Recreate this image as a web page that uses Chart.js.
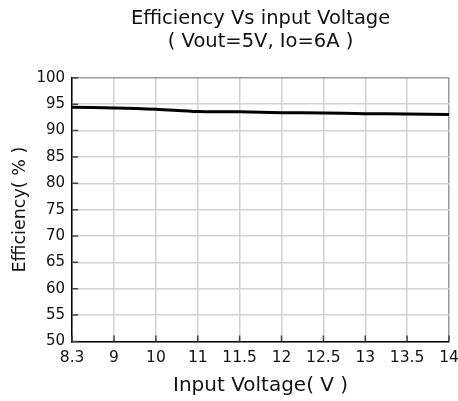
<!DOCTYPE html>
<html>
<head>
<meta charset="utf-8">
<script src="https://cdn.jsdelivr.net/npm/chart.js@4"></script>
<style>
  html, body { margin: 0; padding: 0; background: #fff; }
  #wrap { width: 458px; height: 401px; }
</style>
</head>
<body>
<div id="wrap"><canvas id="effChart" width="458" height="401"></canvas></div>
<script>
const voltages = ['8.3', '9', '10', '11', '11.5', '12', '12.5', '13', '13.5', '14'];
const efficiency = [94.4, 94.3, 94.05, 93.6, 93.55, 93.4, 93.35, 93.2, 93.15, 93.05];
const titleLines = ['Efficiency Vs input Voltage', '( Vout=5V, Io=6A )'];

const FONT = "'DejaVu Sans', sans-serif";

// keep title centred over the plot area instead of the whole canvas
const centerTitle = {
    id: 'centerTitle',
    afterLayout(chart) {
        const t = chart.titleBlock;
        if (!t) return;
        const cx = (chart.chartArea.left + chart.chartArea.right) / 2;
        const w = t.right - t.left;
        t.left = cx - w / 2;
        t.right = cx + w / 2;
    }
};

// short tick marks pointing into the plot
const innerTicks = {
    id: 'innerTicks',
    beforeDatasetsDraw(chart) {
        const { ctx, chartArea, scales: { x, y } } = chart;
        ctx.save();
        ctx.strokeStyle = '#444';
        ctx.lineWidth = 1.5;
        ctx.beginPath();
        y.ticks.forEach(t => {
            const py = y.getPixelForValue(t.value);
            ctx.moveTo(chartArea.left, py);
            ctx.lineTo(chartArea.left + 6, py);
        });
        x.ticks.forEach((t, i) => {
            const px = x.getPixelForTick(i);
            ctx.moveTo(px, chartArea.bottom);
            ctx.lineTo(px, chartArea.bottom - 6);
        });
        ctx.stroke();
        ctx.restore();
    }
};

const ctx = document.getElementById('effChart').getContext('2d');

new Chart(ctx, {
    type: 'line',
    data: {
        labels: voltages,
        datasets: [{
            label: 'Efficiency',
            data: efficiency,
            borderColor: '#000',
            borderWidth: 3,
            pointRadius: 0,
            tension: 0.3,
            fill: false
        }]
    },
    options: {
        responsive: false,
        animation: false,
        layout: { padding: { left: 12, right: 9, top: 8, bottom: 3 } },
        plugins: {
            legend: { display: false },
            tooltip: { enabled: false },
            title: {
                display: true,
                text: titleLines,
                color: '#111',
                font: { family: FONT, size: 19.5, weight: 'normal', lineHeight: 1.15 },
                padding: { top: 0, bottom: 25 }
            }
        },
        scales: {
            x: {
                offset: false,
                afterFit: (scale) => { scale.paddingRight = 0; },
                grid: {
                    color: (c) => c.index === voltages.length - 1 ? '#999' : '#d2d2d2',
                    lineWidth: 1.5,
                    drawTicks: false
                },
                border: { color: '#000', width: 1.5 },
                ticks: {
                    color: '#111',
                    padding: 7,
                    maxRotation: 0,
                    autoSkip: false,
                    font: { family: FONT, size: 15.5 }
                },
                title: {
                    display: true,
                    text: 'Input Voltage( V )',
                    color: '#111',
                    font: { family: FONT, size: 20 },
                    padding: { top: 0, bottom: 0 }
                }
            },
            y: {
                min: 50,
                max: 100,
                grid: {
                    color: (c) => c.tick && c.tick.value === 100 ? '#999' : '#d2d2d2',
                    lineWidth: 1.5,
                    drawTicks: false
                },
                border: { color: '#000', width: 1.5 },
                ticks: {
                    stepSize: 5,
                    color: '#111',
                    padding: 7,
                    font: { family: FONT, size: 15 }
                },
                title: {
                    display: true,
                    text: 'Efficiency( % )',
                    color: '#111',
                    font: { family: FONT, size: 17.5, lineHeight: 1.0 },
                    padding: { top: 0, bottom: 0 }
                }
            }
        }
    },
    plugins: [centerTitle, innerTicks]
});
</script>
</body>
</html>
